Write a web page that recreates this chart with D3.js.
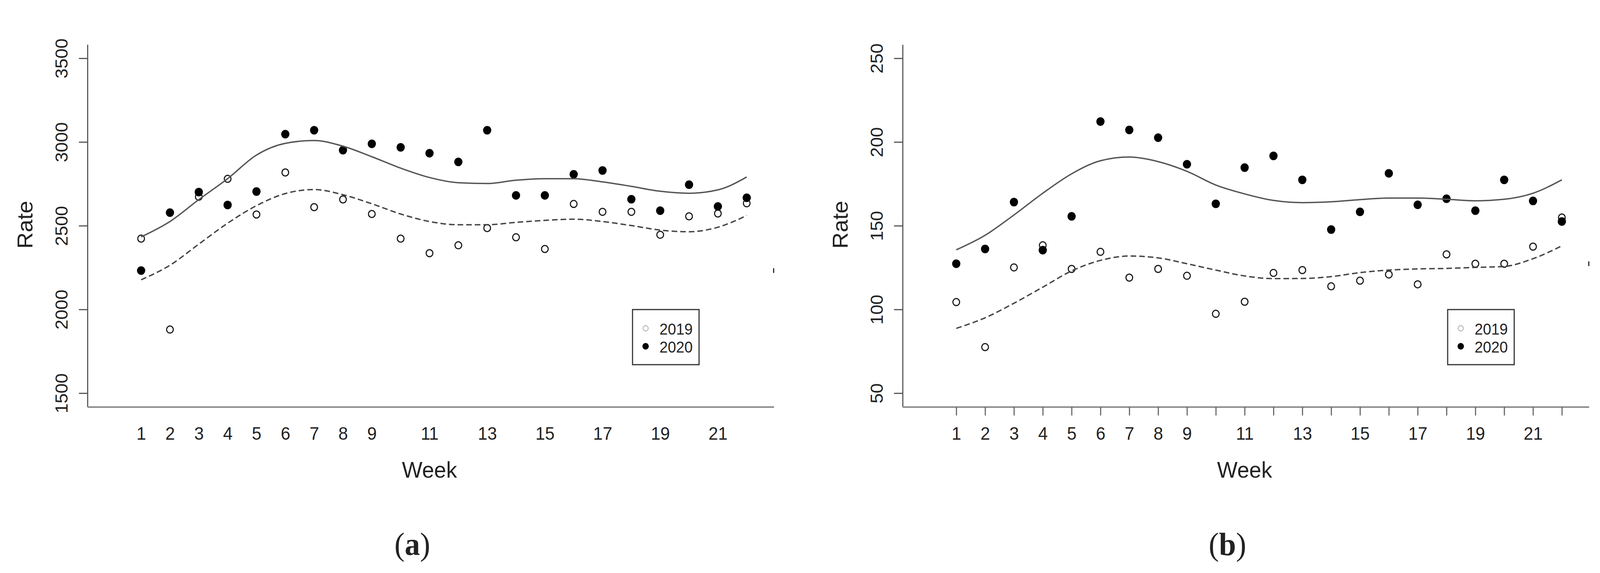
<!DOCTYPE html>
<html>
<head>
<meta charset="utf-8">
<script src="https://cdn.jsdelivr.net/npm/d3@7"></script>
<style>
  html, body { margin: 0; padding: 0; background: #fff; overflow: hidden; }
  svg { display: block; width: 100vw; height: 100vh; }
  text { font-family: "Liberation Sans", Arial, sans-serif; fill: #222; }
</style>
</head>
<body>
<svg id="chart" viewBox="0 0 4280 1466" preserveAspectRatio="none"></svg>
<script>
// weeks and tick labels
const weeks = [1, 2, 3, 4, 5, 6, 7, 8, 9, 10, 11, 12, 13, 14, 15, 16, 17, 18, 19, 20, 21, 22];
const weekLabels = [1, 2, 3, 4, 5, 6, 7, 8, 9, 11, 13, 15, 17, 19, 21];
const seriesNames = ["2019", "2020"];

// panel (a)
const a2019 = [2423, 1880, 2673, 2780, 2567, 2818, 2611, 2657, 2570, 2423, 2336, 2383, 2486, 2431, 2361, 2630, 2583, 2583, 2446, 2556, 2573, 2634];
const a2020 = [2232, 2578, 2701, 2624, 2704, 3047, 3070, 2951, 2989, 2968, 2933, 2881, 3070, 2681, 2681, 2807, 2830, 2658, 2590, 2745, 2615, 2667];
const aFit2019 = [2177, 2264, 2390, 2515, 2620, 2692, 2716, 2685, 2631, 2570, 2525, 2506, 2506, 2520, 2532, 2539, 2525, 2501, 2474, 2464, 2491, 2561];
const aFit2020 = [2433, 2525, 2656, 2781, 2922, 2992, 3009, 2975, 2912, 2844, 2788, 2757, 2752, 2772, 2781, 2781, 2762, 2735, 2706, 2694, 2714, 2791];
const aTicks = [1500, 2000, 2500, 3000, 3500];
const aLim = [1418, 3582];
const aEdge = 2232;

// panel (b)
const b2019 = [104.4, 77.5, 125.1, 138.3, 124.2, 134.4, 119, 124.2, 120.1, 97.4, 104.6, 121.8, 123.5, 113.8, 117.2, 120.9, 115, 132.9, 127.3, 127.3, 137.5, 154.9];
const b2020 = [127.3, 136.1, 164.1, 135.4, 155.6, 212.2, 207.2, 202.6, 186.7, 163.1, 184.7, 191.7, 177.4, 147.7, 158.3, 181.3, 162.5, 166.1, 159, 177.4, 164.8, 152.5];
const bFit2019 = [88.7, 95, 103.7, 113.3, 123, 129.3, 131.9, 130.8, 127.3, 123.5, 120, 118.4, 118.5, 119.6, 122, 123.5, 124.2, 124.5, 125.1, 125.7, 130.3, 138];
const bFit2020 = [135.6, 144.3, 156.4, 169.4, 181, 188.8, 191, 188.3, 182.5, 174.3, 169, 165.1, 163.8, 164.3, 165.6, 166.5, 166.5, 165.8, 164.9, 165.8, 169.4, 177.4];
const bTicks = [50, 100, 150, 200, 250];
const bLim = [41.8, 258.2];
const bEdge = 127.3;

const xLim = [-0.86, 22.94];

const svg = d3.select("#chart");
svg.append("rect").attr("width", 4280).attr("height", 1466).attr("fill", "#fff");

const box = { left: 234, right: 2070, top: 114, bottom: 1041 };

function drawPanel(offset, tag, v2019, v2020, fit2019, fit2020, yTicks, yLim, edge, xTicks) {
    const g = svg.append("g").attr("transform", `translate(${offset},0)`);

    const x = d3.scaleLinear().domain(xLim).range([box.left, box.right]);
    const y = d3.scaleLinear().domain(yLim).range([box.bottom, box.top]);

    // y axis
    const ya = g.append("g")
        .attr("transform", `translate(${box.left},0)`)
        .call(d3.axisLeft(y).tickValues(yTicks).tickSize(23).tickSizeOuter(0).tickFormat(d3.format("d")));
    ya.select(".domain").attr("stroke", "#555").attr("stroke-width", 3);
    ya.selectAll(".tick line").attr("stroke", "#555").attr("stroke-width", 3);
    ya.selectAll(".tick text")
        .attr("x", null).attr("dy", null)
        .attr("transform", "translate(-53,0) rotate(-90)")
        .attr("text-anchor", "middle")
        .attr("font-size", 46)
        .attr("fill", "#222");

    // x axis
    const xa = g.append("g")
        .attr("transform", `translate(0,${box.bottom})`)
        .call(d3.axisBottom(x).tickValues(weeks).tickSize(xTicks ? 22 : 0).tickSizeOuter(0)
            .tickFormat(d => weekLabels.includes(d) ? d : ""));
    xa.select(".domain").attr("stroke", "#888").attr("stroke-width", 4);
    xa.selectAll(".tick line").attr("stroke", "#666").attr("stroke-width", 3);
    xa.selectAll(".tick text")
        .attr("y", 84).attr("dy", null)
        .attr("font-size", 46)
        .attr("fill", "#222");
    svg.selectAll(".tick text").style("font-family", "'Liberation Sans', Arial, sans-serif");

    // axis titles
    g.append("text")
        .attr("transform", `translate(87,575) rotate(-90)`)
        .attr("text-anchor", "middle")
        .attr("font-size", 58)
        .text("Rate");
    g.append("text")
        .attr("x", x(11)).attr("y", 1222)
        .attr("text-anchor", "middle")
        .attr("font-size", 58)
        .text("Week");

    // clipped mark at the right edge
    g.append("rect")
        .attr("x", box.right - 2).attr("y", y(edge) - 6)
        .attr("width", 3).attr("height", 12)
        .attr("fill", "#222");

    // points
    g.selectAll(".p2019").data(v2019).join("circle")
        .attr("class", "p2019")
        .attr("cx", (d, i) => x(weeks[i])).attr("cy", d => y(d))
        .attr("r", 9).attr("fill", "none")
        .attr("stroke", "#1a1a1a").attr("stroke-width", 3);
    g.selectAll(".p2020").data(v2020).join("circle")
        .attr("class", "p2020")
        .attr("cx", (d, i) => x(weeks[i])).attr("cy", d => y(d))
        .attr("r", 11).attr("fill", "#000");

    // fitted curves
    const line = d3.line()
        .x((d, i) => x(weeks[i]))
        .y(d => y(d))
        .curve(d3.curveMonotoneX);
    g.append("path").datum(fit2020)
        .attr("d", line).attr("fill", "none")
        .attr("stroke", "#555").attr("stroke-width", 3.5);
    g.append("path").datum(fit2019)
        .attr("d", line).attr("fill", "none")
        .attr("stroke", "#444").attr("stroke-width", 3.5)
        .attr("stroke-dasharray", "15,8");

    // legend
    const lg = g.append("g");
    lg.append("rect")
        .attr("x", 1692).attr("y", 792).attr("width", 178).attr("height", 141)
        .attr("fill", "#fff").attr("stroke", "#333").attr("stroke-width", 3);
    seriesNames.forEach((name, i) => {
        const cy = 840 + i * 46;
        if (i === 0) {
            lg.append("circle").attr("cx", 1727).attr("cy", cy).attr("r", 7)
                .attr("fill", "none").attr("stroke", "#bbb").attr("stroke-width", 2.5);
        } else {
            lg.append("circle").attr("cx", 1727).attr("cy", cy).attr("r", 8.5)
                .attr("fill", "#000");
        }
        lg.append("text")
            .attr("x", 1764).attr("y", cy + 16)
            .attr("font-size", 40)
            .attr("fill", "#333")
            .text(name);
    });

    // panel tag
    const t = g.append("text")
        .attr("x", 1103).attr("y", 1420)
        .attr("text-anchor", "middle")
        .attr("font-size", 82)
        .style("font-family", "'Liberation Serif', 'Times New Roman', serif")
        .attr("fill", "#000");
    t.append("tspan").text("(");
    t.append("tspan").attr("font-weight", "bold").text(tag);
    t.append("tspan").text(")");
}

drawPanel(0, "a", a2019, a2020, aFit2019, aFit2020, aTicks, aLim, aEdge, false);
drawPanel(2180.5, "b", b2019, b2020, bFit2019, bFit2020, bTicks, bLim, bEdge, true);
</script>
</body>
</html>
